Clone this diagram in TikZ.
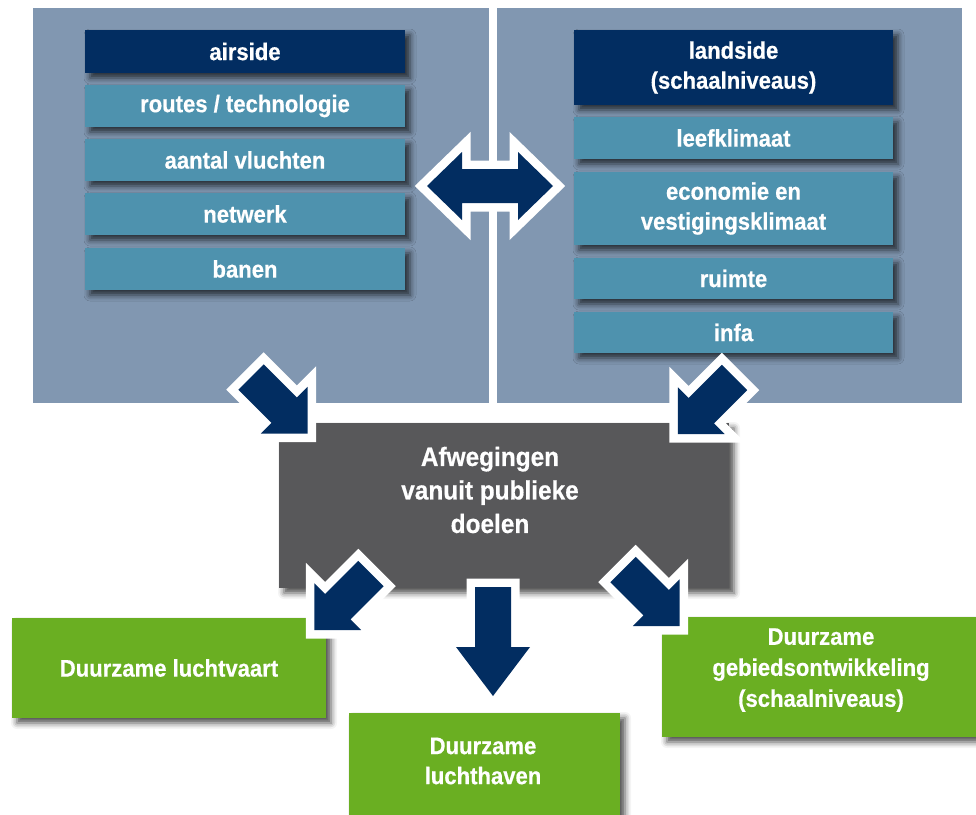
\documentclass[tikz,border=0pt]{standalone}
\usepackage{fontspec}
\setmainfont[FakeStretch=0.92, BoldFeatures={FakeBold=0.5}]{Liberation Sans}
\usetikzlibrary{shadows.blur}

\definecolor{panelblue}{HTML}{8197B1}
\definecolor{navy}{HTML}{022D61}
\definecolor{itemteal}{HTML}{4E92AE}
\definecolor{slategrey}{HTML}{58585A}
\definecolor{leafgreen}{HTML}{6AAF22}

\tikzset{
  softshadow/.style={blur shadow={shadow xshift=5pt, shadow yshift=-5pt,
      shadow blur radius=6pt, shadow opacity=70}},
  label/.style={text=white, align=center,
      font=\fontsize{24}{30}\selectfont\bfseries},
  box/.style={label, inner sep=0, softshadow},
  navybox/.style={box, fill=navy},
  itembox/.style={box, fill=itemteal},
  greybox/.style={box, fill=slategrey},
  greenbox/.style={box, fill=leafgreen},
  arrowfill/.style={fill=navy,
      preaction={draw=white, line width=17, line join=miter}},
  % block arrow pointing along local x: length, head length, head half width, shaft half width
  pics/blockarrow/.style n args={4}{code={
    \path[arrowfill] (0,#4) -- (#1-#2,#4) -- (#1-#2,#3) -- (#1,0)
      -- (#1-#2,-#3) -- (#1-#2,-#4) -- (0,-#4) -- cycle;
  }},
}

\begin{document}
\begin{tikzpicture}[x=1pt, y=-1pt]
\useasboundingbox (0,0) rectangle (976,814);

% the two background panels
\fill[panelblue] (33,8) rectangle (489,403);
\fill[panelblue] (497,8) rectangle (962,403);

% airside column
\node[navybox, minimum width=320, minimum height=43] (air) at (245,51.5) {airside};
\node[itembox, minimum width=320, minimum height=42] (routes) at (245,106) {routes / technologie};
\node[itembox, minimum width=320, minimum height=42] (vlucht) at (245,160) {aantal vluchten};
\node[itembox, minimum width=320, minimum height=42] (netwerk) at (245,214) {netwerk};
\node[itembox, minimum width=320, minimum height=42] (banen) at (245,269) {banen};

% landside column
\node[navybox, minimum width=319, minimum height=75] (land) at (733.5,67.5) {landside\\(schaalniveaus)};
\node[itembox, minimum width=319, minimum height=42] (leef) at (733.5,138) {leefklimaat};
\node[itembox, minimum width=319, minimum height=73] (econ) at (733.5,208.5) {economie en\\vestigingsklimaat};
\node[itembox, minimum width=319, minimum height=41] (ruimte) at (733.5,278.5) {ruimte};
\node[itembox, minimum width=319, minimum height=41] (infa) at (733.5,332.5) {infa};

% central trade-off box
\node[greybox, minimum width=450, minimum height=165] (afw) at (504,505.5) {};
\node[label, font=\fontsize{26.5}{33.5}\selectfont\bfseries] (afwtext) at (490,490)
  {Afwegingen\\vanuit publieke\\doelen};

% outcomes
\node[greenbox, minimum width=314, minimum height=100] (vaart) at (169,668) {Duurzame luchtvaart};
\node[greenbox, minimum width=271, minimum height=112] (haven) at (484.5,769) {};
\node[label] (haventext) at (483,761) {Duurzame\\luchthaven};
\node[greenbox, minimum width=314, minimum height=120] (gebied) at (819,677) {};
\node[label, font=\fontsize{24}{31}\selectfont\bfseries] (gebiedtext) at (821,670)
  {Duurzame\\gebiedsontwikkeling\\(schaalniveaus)};

% two-way arrow between airside and landside
\path[arrowfill] (427,186) -- (462,152) -- (462,169) -- (518,169) -- (518,152)
  -- (553,186) -- (518,220) -- (518,203) -- (462,203) -- (462,220) -- cycle;

% arrows into and out of the trade-off box
\coordinate (inL) at (251,377);
\coordinate (inR) at (734.5,377.5);
\coordinate (outL) at (371,573.5);
\coordinate (outM) at (493,587);
\coordinate (outR) at (623,569.5);
\pic[rotate=-45] at (inL) {blockarrow={80}{33}{33}{18}};
\pic[rotate=-135] at (inR) {blockarrow={80}{33}{33}{18}};
\pic[rotate=-135] at (outL) {blockarrow={80}{33}{33}{18}};
\pic[rotate=-45] at (outR) {blockarrow={80}{33}{33}{18}};
\pic[rotate=-90] at (outM) {blockarrow={109}{49}{37}{18}};
\end{tikzpicture}
\end{document}
